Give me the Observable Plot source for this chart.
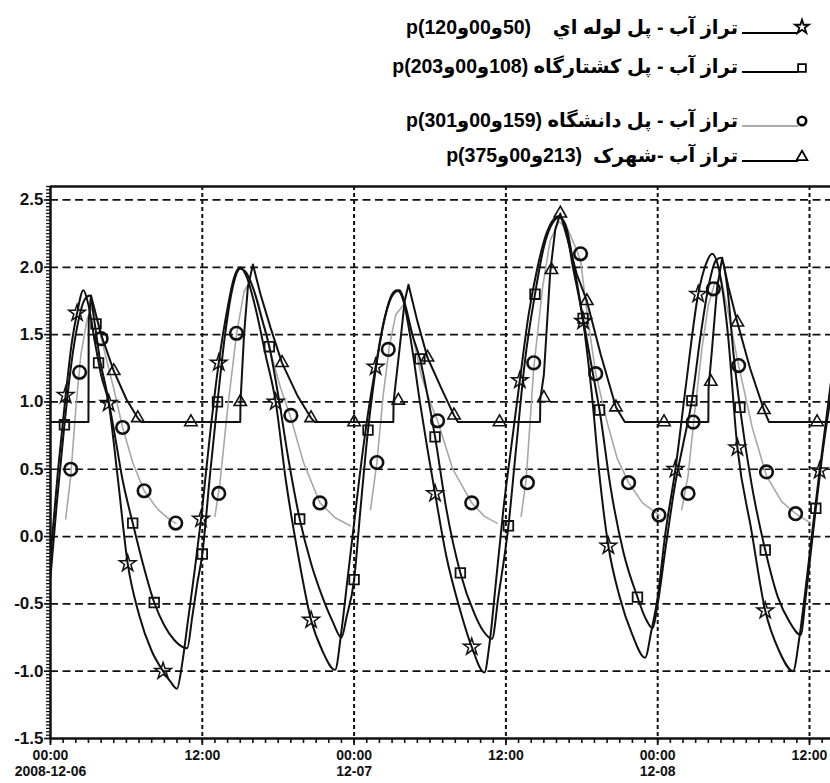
<!DOCTYPE html>
<html><head><meta charset="utf-8">
<script src="https://cdn.jsdelivr.net/npm/d3@7"></script>
<script src="https://cdn.jsdelivr.net/npm/@observablehq/plot@0.6"></script>
<style>
body{margin:0;background:#fff;}
#wrap{position:relative;width:830px;height:783px;overflow:hidden;background:#fff;}
#legend{position:relative;width:830px;height:119px;}
.row{position:absolute;right:92px;direction:rtl;white-space:pre;font-weight:bold;font-size:19.5px;font-family:"Liberation Sans","DejaVu Sans",sans-serif;line-height:22px;color:#000;}
.ltr{direction:ltr;unicode-bidi:bidi-override;}
.sample{position:absolute;left:738px;}
#chart svg{display:block;}
</style></head>
<body><div id="wrap"><div id="legend"></div><div id="chart"></div></div>
<script>
// ---- axis / tick data ----
const xDomain = [0, 61.66];           // hours since 2008-12-06 00:00
const yDomain = [-1.5, 2.6];
const xTickHours = [0, 12, 24, 36, 48, 60];
const xTickLabels = ["00:00\n2008-12-06", "12:00", "00:00\n12-07", "12:00", "00:00\n12-08", "12:00"];
const yTicks = [-1.5, -1.0, -0.5, 0, 0.5, 1.0, 1.5, 2.0, 2.5];
const yTickLabels = ["-1.5", "-1.0", "-0.5", "0.0", "0.5", "1.0", "1.5", "2.0", "2.5"];
const xGridHours = [12, 24, 36, 48, 60];
const yGridValues = [-1.0, -0.5, 0, 0.5, 1.0, 1.5, 2.0, 2.5];

// ---- legend text ----
const seriesNames = ["تراز آب - پل لوله اي", "تراز آب - پل کشتارگاه", "تراز آب - پل دانشگاه", "تراز آب -شهرک"];
const seriesCodes = ["p(120و00و50)", "p(203و00و108)", "p(301و00و159)", "p(375و00و213)"];
const seriesGaps = ["\u00a0\u00a0\u00a0\u00a0", "\u00a0", "\u00a0", "\u00a0\u00a0"];

// ---- series: [hour, water level] ----
const starLine = [[0,-0.15],[0.6,0.5],[1.2,1.05],[1.7,1.45],[2.1,1.66],[2.6,1.83],[3.0,1.72],[3.5,1.45],[4.0,1.2],[4.6,0.99],[5.3,0.45],[6.1,-0.2],[7.0,-0.58],[8.0,-0.85],[8.9,-1.0],[9.5,-1.08],[10.0,-1.13],[10.4,-0.95],[10.9,-0.6],[11.4,-0.25],[11.9,0.13],[12.6,0.75],[13.3,1.29],[14.0,1.7],[14.5,1.92],[15.0,2.0],[15.5,1.93],[16.2,1.7],[17.0,1.35],[17.8,1.0],[18.6,0.42],[19.6,-0.15],[20.6,-0.62],[21.5,-0.85],[22.5,-0.99],[23.0,-0.7],[23.5,-0.3],[24.0,0.1],[24.4,0.42],[25.0,0.85],[25.7,1.26],[26.4,1.62],[27.0,1.8],[27.4,1.83],[27.9,1.75],[28.5,1.45],[29.2,1.0],[29.8,0.65],[30.4,0.32],[31.3,-0.15],[32.3,-0.52],[33.3,-0.82],[34.3,-1.01],[34.7,-0.8],[35.2,-0.35],[35.8,0.2],[36.4,0.65],[37.1,1.16],[37.8,1.65],[38.5,2.0],[39.2,2.25],[39.8,2.36],[40.2,2.38],[40.7,2.3],[41.3,2.0],[42.1,1.6],[42.8,1.05],[43.4,0.45],[44.1,-0.07],[45.0,-0.45],[46.0,-0.73],[47.0,-0.9],[47.5,-0.7],[48.0,-0.45],[48.6,0.02],[49.4,0.5],[50.2,1.1],[51.2,1.8],[51.8,2.02],[52.3,2.1],[52.8,2.0],[53.5,1.55],[54.3,0.66],[55.4,0.05],[56.5,-0.55],[57.6,-0.85],[58.7,-1.0],[59.2,-0.75],[59.8,-0.3],[60.3,0.1],[60.8,0.49],[61.7,1.15]];
const squareLine = [[0,-0.3],[0.5,0.25],[1.1,0.83],[1.6,1.25],[2.2,1.6],[2.7,1.76],[3.1,1.79],[3.5,1.58],[3.9,1.32],[4.4,1.1],[5.0,0.8],[5.7,0.42],[6.5,0.1],[7.3,-0.2],[8.2,-0.49],[9.0,-0.66],[9.8,-0.77],[10.8,-0.83],[11.2,-0.6],[11.6,-0.35],[12.0,-0.13],[12.6,0.45],[13.2,1.0],[13.8,1.5],[14.4,1.85],[15.0,1.99],[15.4,1.97],[16.0,1.85],[16.7,1.62],[17.3,1.41],[18.0,1.05],[18.8,0.58],[19.7,0.13],[20.6,-0.2],[21.5,-0.45],[22.3,-0.63],[23.0,-0.75],[23.4,-0.6],[24.0,-0.32],[24.5,0.2],[25.1,0.79],[25.8,1.3],[26.5,1.65],[27.1,1.8],[27.6,1.83],[28.1,1.7],[28.6,1.5],[29.2,1.32],[29.8,1.05],[30.4,0.74],[31.3,0.2],[32.4,-0.27],[33.5,-0.57],[34.2,-0.7],[34.9,-0.76],[35.4,-0.45],[36.2,0.08],[36.8,0.65],[37.5,1.3],[38.3,1.8],[39.0,2.15],[39.7,2.33],[40.2,2.37],[40.7,2.32],[41.3,2.05],[42.1,1.62],[42.8,1.25],[43.4,0.94],[44.3,0.35],[45.3,-0.12],[46.4,-0.45],[47.0,-0.6],[47.6,-0.68],[48.0,-0.5],[48.6,-0.1],[49.4,0.4],[50.0,0.68],[50.7,1.01],[51.4,1.5],[52.0,1.85],[52.6,2.05],[53.0,2.07],[53.5,1.85],[54.0,1.35],[54.5,0.96],[55.4,0.4],[56.5,-0.1],[57.5,-0.45],[58.4,-0.63],[59.3,-0.73],[59.7,-0.45],[60.1,-0.12],[60.5,0.21],[61.0,0.6],[61.7,1.05]];
const circleLine = [[1.2,0.13],[1.6,0.45],[2.0,0.95],[2.4,1.35],[2.9,1.62],[3.3,1.7],[3.7,1.6],[4.2,1.4],[5.0,1.1],[5.7,0.81],[6.5,0.55],[7.4,0.34],[8.5,0.2],[9.5,0.12],[9.9,0.1],[10.0,null],[13.0,0.15],[13.4,0.4],[14.0,0.95],[14.7,1.5],[15.3,1.82],[15.8,1.9],[16.4,1.75],[17.3,1.4],[18.2,1.1],[19.0,0.88],[20.0,0.55],[21.3,0.25],[22.5,0.14],[23.7,0.08],[23.8,null],[25.3,0.2],[25.8,0.55],[26.3,1.05],[26.8,1.42],[27.3,1.65],[27.9,1.72],[28.5,1.55],[29.3,1.2],[30.0,1.0],[30.6,0.86],[31.8,0.5],[33.3,0.25],[34.3,0.15],[35.3,0.1],[35.4,null],[37.2,0.15],[37.6,0.42],[38.2,1.25],[38.9,1.85],[39.5,2.2],[40.2,2.34],[40.9,2.28],[41.5,2.15],[41.9,2.05],[42.5,1.6],[43.1,1.21],[44.0,0.85],[44.8,0.58],[45.7,0.4],[46.8,0.25],[48.1,0.16],[48.2,null],[49.9,0.2],[50.4,0.45],[50.9,0.9],[51.5,1.4],[52.0,1.72],[52.5,1.88],[53.0,1.92],[53.6,1.65],[54.4,1.27],[55.5,0.8],[56.6,0.45],[57.8,0.26],[58.9,0.17],[60.1,0.1]];
const triangleLine = [[0,0.85],[3.0,0.85],[3.02,1.6],[3.2,1.79],[4.0,1.5],[5.0,1.23],[6.0,1.02],[6.9,0.88],[7.2,0.85],[15.0,0.85],[15.02,1.0],[15.3,1.5],[15.6,1.85],[16.0,2.02],[16.6,1.8],[17.4,1.55],[18.3,1.29],[19.5,1.05],[20.6,0.88],[20.9,0.85],[27.1,0.85],[27.12,1.0],[27.6,1.4],[28.0,1.75],[28.3,1.87],[29.0,1.6],[29.8,1.33],[30.9,1.1],[31.9,0.9],[32.2,0.85],[38.7,0.85],[38.72,1.02],[39.0,1.2],[39.5,1.96],[39.9,2.28],[40.3,2.4],[40.9,2.2],[41.6,1.95],[42.4,1.75],[43.5,1.35],[44.7,0.96],[45.4,0.85],[52.0,0.85],[52.02,1.1],[52.3,1.4],[52.7,1.85],[53.1,2.07],[53.6,1.85],[54.3,1.59],[55.3,1.25],[56.4,0.94],[56.8,0.85],[61.7,0.85]];

const starMarks = [[1.2,1.05],[2.1,1.66],[4.6,0.99],[6.1,-0.2],[8.9,-1.0],[11.9,0.13],[13.3,1.29],[17.8,1.0],[20.6,-0.62],[25.7,1.26],[30.4,0.32],[33.3,-0.82],[37.1,1.16],[42.1,1.6],[44.1,-0.07],[49.4,0.5],[51.2,1.8],[54.3,0.66],[56.5,-0.55],[60.8,0.49]];
const squareMarks = [[1.1,0.83],[3.6,1.58],[3.8,1.29],[6.5,0.1],[8.2,-0.49],[12.0,-0.13],[13.2,1.0],[17.3,1.41],[19.7,0.13],[24.0,-0.32],[25.1,0.79],[29.2,1.32],[30.4,0.74],[32.4,-0.27],[36.2,0.08],[38.3,1.8],[42.1,1.62],[43.4,0.94],[46.4,-0.45],[50.7,1.01],[54.5,0.96],[56.5,-0.1],[60.5,0.21]];
const circleMarks = [[1.6,0.5],[2.3,1.22],[4.0,1.47],[5.7,0.81],[7.4,0.34],[9.9,0.1],[13.3,0.32],[14.7,1.51],[19.0,0.9],[21.3,0.25],[25.8,0.55],[26.7,1.39],[30.6,0.86],[33.3,0.25],[37.7,0.4],[38.2,1.29],[41.9,2.1],[43.1,1.21],[45.7,0.4],[48.1,0.16],[50.4,0.32],[50.8,0.85],[52.4,1.84],[54.4,1.27],[56.6,0.48],[58.9,0.17]];
const triangleMarks = [[5.0,1.23],[6.9,0.88],[11.1,0.85],[15.0,1.0],[18.3,1.29],[20.6,0.88],[24.0,0.85],[27.5,1.01],[29.8,1.33],[31.9,0.9],[35.5,0.85],[39.0,1.03],[39.6,1.98],[40.3,2.4],[42.4,1.75],[44.7,0.96],[48.5,0.85],[52.2,1.15],[54.3,1.59],[56.4,0.94],[60.6,0.85]];

// ---- legend (HTML, above the SVG) ----
const legendCenters = [27, 66, 120, 155];
const legendSymbols = ["star", "square", "circle", "triangle"];
const legendStroke = ["#000", "#000", "#aaa", "#000"];
const symMap = {star: d3.symbolStar, square: d3.symbolSquare, circle: d3.symbolCircle, triangle: d3.symbolTriangle};
const legend = document.getElementById("legend");
seriesNames.forEach((name, i) => {
  const c = legendCenters[i];
  const row = document.createElement("div");
  row.className = "row";
  row.style.top = (c - 11) + "px";
  const a = document.createElement("span"); a.textContent = name;
  const g = document.createElement("span"); g.textContent = seriesGaps[i];
  const b = document.createElement("span"); b.className = "ltr"; b.textContent = seriesCodes[i];
  row.append(a, g, b);
  legend.appendChild(row);
  const svg = d3.select(legend).append("svg").attr("class", "sample")
    .style("top", (c - 14) + "px").attr("width", 80).attr("height", 28);
  svg.append("line").attr("x1", 4).attr("x2", 60).attr("y1", 20).attr("y2", 20)
    .attr("stroke", legendStroke[i]).attr("stroke-width", 2.2);
  const size = {star: 60, square: 60, circle: 55, triangle: 50}[legendSymbols[i]];
  const cy = {star: 14, square: 16, circle: 15, triangle: 16}[legendSymbols[i]];
  svg.append("path").attr("d", d3.symbol(symMap[legendSymbols[i]], size)())
    .attr("transform", `translate(64,${cy})`).attr("fill", "none")
    .attr("stroke", "#000").attr("stroke-width", legendSymbols[i] === "circle" ? 2.6 : 1.8);
});

// ---- chart ----
const toRows = (arr) => arr.map(([h, v]) => ({h, v}));
const hourTicks = d3.range(0, 62, 1);
const yMinorTicks = d3.range(-1.5, 2.6001, 0.025);

const lineOpts = {x: "h", y: "v", stroke: "#111", strokeWidth: 2, curve: "monotone-x", clip: true};
const chart = Plot.plot({
  width: 830, height: 664,
  marginLeft: 50, marginRight: 0, marginTop: 67, marginBottom: 45,
  x: {domain: xDomain, axis: null, label: null},
  y: {domain: yDomain, axis: null, label: null},
  style: {fontFamily: '"Liberation Sans", Arial, sans-serif', fontWeight: "bold", background: "white", color: "#000", overflow: "visible"},
  marks: [
    Plot.gridY(yGridValues, {stroke: "#111", strokeOpacity: 1, strokeWidth: 1.7, strokeDasharray: "8,4.5"}),
    Plot.gridX(xGridHours, {stroke: "#111", strokeOpacity: 1, strokeWidth: 2, strokeDasharray: "4,3"}),
    Plot.line(toRows(circleLine), {...lineOpts, stroke: "#a8a8a8", strokeWidth: 1.6, curve: "linear"}),
    Plot.line(toRows(triangleLine), {...lineOpts, curve: "linear"}),
    Plot.line(toRows(squareLine), lineOpts),
    Plot.line(toRows(starLine), lineOpts),
    Plot.dot(toRows(starMarks), {x: "h", y: "v", symbol: "star", r: 5.2, fill: "none", stroke: "#111", strokeWidth: 1.5}),
    Plot.dot(toRows(squareMarks), {x: "h", y: "v", symbol: "square", r: 5.4, fill: "none", stroke: "#111", strokeWidth: 1.8}),
    Plot.dot(toRows(circleMarks), {x: "h", y: "v", symbol: "circle", r: 6.3, fill: "none", stroke: "#111", strokeWidth: 2.6}),
    Plot.dot(toRows(triangleMarks), {x: "h", y: "v", symbol: "triangle", r: 4.6, fill: "none", stroke: "#111", strokeWidth: 1.6}),
    Plot.ruleY([yDomain[1]], {stroke: "#111", strokeWidth: 2.5}),
    Plot.ruleY([yDomain[0]], {stroke: "#111", strokeWidth: 2.5}),
    Plot.ruleX([xDomain[0]], {stroke: "#111", strokeWidth: 2.5}),
    Plot.axisX({ticks: hourTicks, tickSize: 5, tickFormat: () => "", label: null, stroke: "#111", strokeWidth: 1.6}),
    Plot.axisX({ticks: xTickHours, tickSize: 7, tickPadding: 3, label: null, stroke: "#111", strokeWidth: 1.8,
      tickFormat: d => xTickLabels[xTickHours.indexOf(d)], fontSize: 14, lineHeight: 1.15, fill: "#111"}),
    Plot.axisY({ticks: yMinorTicks, tickSize: 4, tickFormat: () => "", label: null, stroke: "#111", strokeWidth: 1.3}),
    Plot.axisY({ticks: yTicks, tickSize: 6, tickPadding: 1, label: null, stroke: "#111", strokeWidth: 1.6,
      tickFormat: d => yTickLabels[yTicks.indexOf(d)], fontSize: 17, fill: "#111"})
  ]
});
document.getElementById("chart").appendChild(chart);
</script>
</body></html>
